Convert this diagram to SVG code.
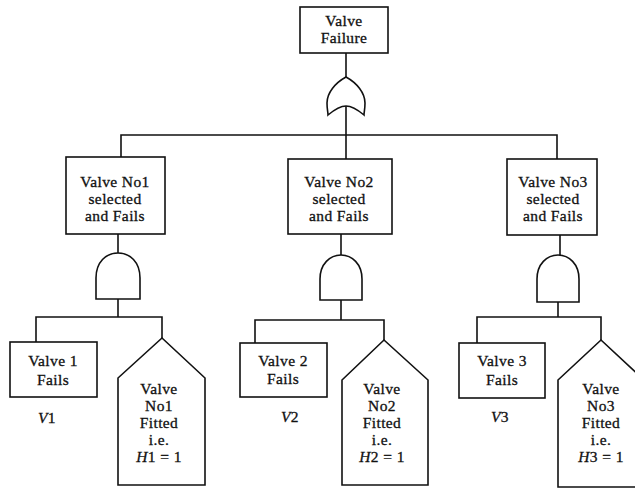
<svg xmlns="http://www.w3.org/2000/svg" width="635" height="489" viewBox="0 0 635 489">
<style>
.s{fill:#fff;stroke:#111;stroke-width:1.6;stroke-linejoin:miter}
.c{fill:none;stroke:#111;stroke-width:1.6}
text{font-family:"Liberation Serif","Times New Roman",serif;font-size:15.5px;letter-spacing:0.4px;fill:#111;stroke:#111;stroke-width:0.3;text-anchor:middle}
.i{font-style:italic}
</style>
<rect width="635" height="489" fill="#fff"/>
<g id="connectors">
<path class="c" d="M346,53V77"/>
<path class="c" d="M346,106V159M121,157V135H557V159"/>
<path class="c" d="M118,234V253M118,299V317M36,342V317H162V338"/>
<path class="c" d="M341,234V255M341,300V320M255,343V320H384V340"/>
<path class="c" d="M560,235V255M558,302V317M477,343V317H601V340"/>
</g>
<g id="top">
<rect class="s" x="300" y="7" width="88" height="46"/>
<text x="344" y="26">Valve</text>
<text x="344" y="43">Failure</text>
</g>
<g id="or-gate">
<path class="s" d="M346,77C335,83 327,93 327,103C327,109 328,112 328,115C334,110 340,106 346,106C352,106 358,110 364,115C364,112 365,109 365,103C365,93 357,83 346,77Z"/>
</g>
<g id="n1">
<rect class="s" x="66" y="157" width="99" height="77"/>
<text x="115" y="187">Valve No1</text>
<text x="115" y="204">selected</text>
<text x="115" y="221">and Fails</text>
</g>
<g id="and1"><path class="s" d="M96,299V278C96,262 106,253 118,253C130,253 140,262 140,278V299Z"/></g>
<g id="n2">
<rect class="s" x="288" y="159" width="104" height="75"/>
<text x="339" y="187">Valve No2</text>
<text x="339" y="204">selected</text>
<text x="339" y="221">and Fails</text>
</g>
<g id="and2"><path class="s" d="M320,300V279C320,264 330,255 341,255C352,255 362,264 362,279V300Z"/></g>
<g id="n3">
<rect class="s" x="507" y="159" width="90" height="76"/>
<text x="553" y="187">Valve No3</text>
<text x="553" y="204">selected</text>
<text x="553" y="221">and Fails</text>
</g>
<g id="and3"><path class="s" d="M537,302V279C537,264 547,255 558,255C569,255 579,264 579,279V302Z"/></g>
<g id="v1">
<rect class="s" x="10" y="342" width="87" height="55"/>
<text x="53" y="366">Valve 1</text>
<text x="53" y="385">Fails</text>
<text x="47" y="423"><tspan class="i">V</tspan>1</text>
</g>
<g id="h1">
<path class="s" d="M162,338L205,378V485H118V378Z"/>
<text x="159" y="394">Valve</text>
<text x="159" y="411">No1</text>
<text x="159" y="428">Fitted</text>
<text x="159" y="445">i.e.</text>
<text x="159" y="462"><tspan class="i">H</tspan>1 = 1</text>
</g>
<g id="v2">
<rect class="s" x="240" y="343" width="87" height="54"/>
<text x="283" y="366">Valve 2</text>
<text x="283" y="384">Fails</text>
<text x="290" y="422"><tspan class="i">V</tspan>2</text>
</g>
<g id="h2">
<path class="s" d="M384,340L428,380V485H342V380Z"/>
<text x="382" y="394">Valve</text>
<text x="382" y="411">No2</text>
<text x="382" y="428">Fitted</text>
<text x="382" y="445">i.e.</text>
<text x="382" y="462"><tspan class="i">H</tspan>2 = 1</text>
</g>
<g id="v3">
<rect class="s" x="459" y="343" width="86" height="55"/>
<text x="502" y="366">Valve 3</text>
<text x="502" y="385">Fails</text>
<text x="500" y="422"><tspan class="i">V</tspan>3</text>
</g>
<g id="h3">
<path class="s" d="M601,340L644,380V487H558V380Z"/>
<text x="601" y="394">Valve</text>
<text x="601" y="411">No3</text>
<text x="601" y="428">Fitted</text>
<text x="601" y="445">i.e.</text>
<text x="601" y="462"><tspan class="i">H</tspan>3 = 1</text>
</g>
</svg>
